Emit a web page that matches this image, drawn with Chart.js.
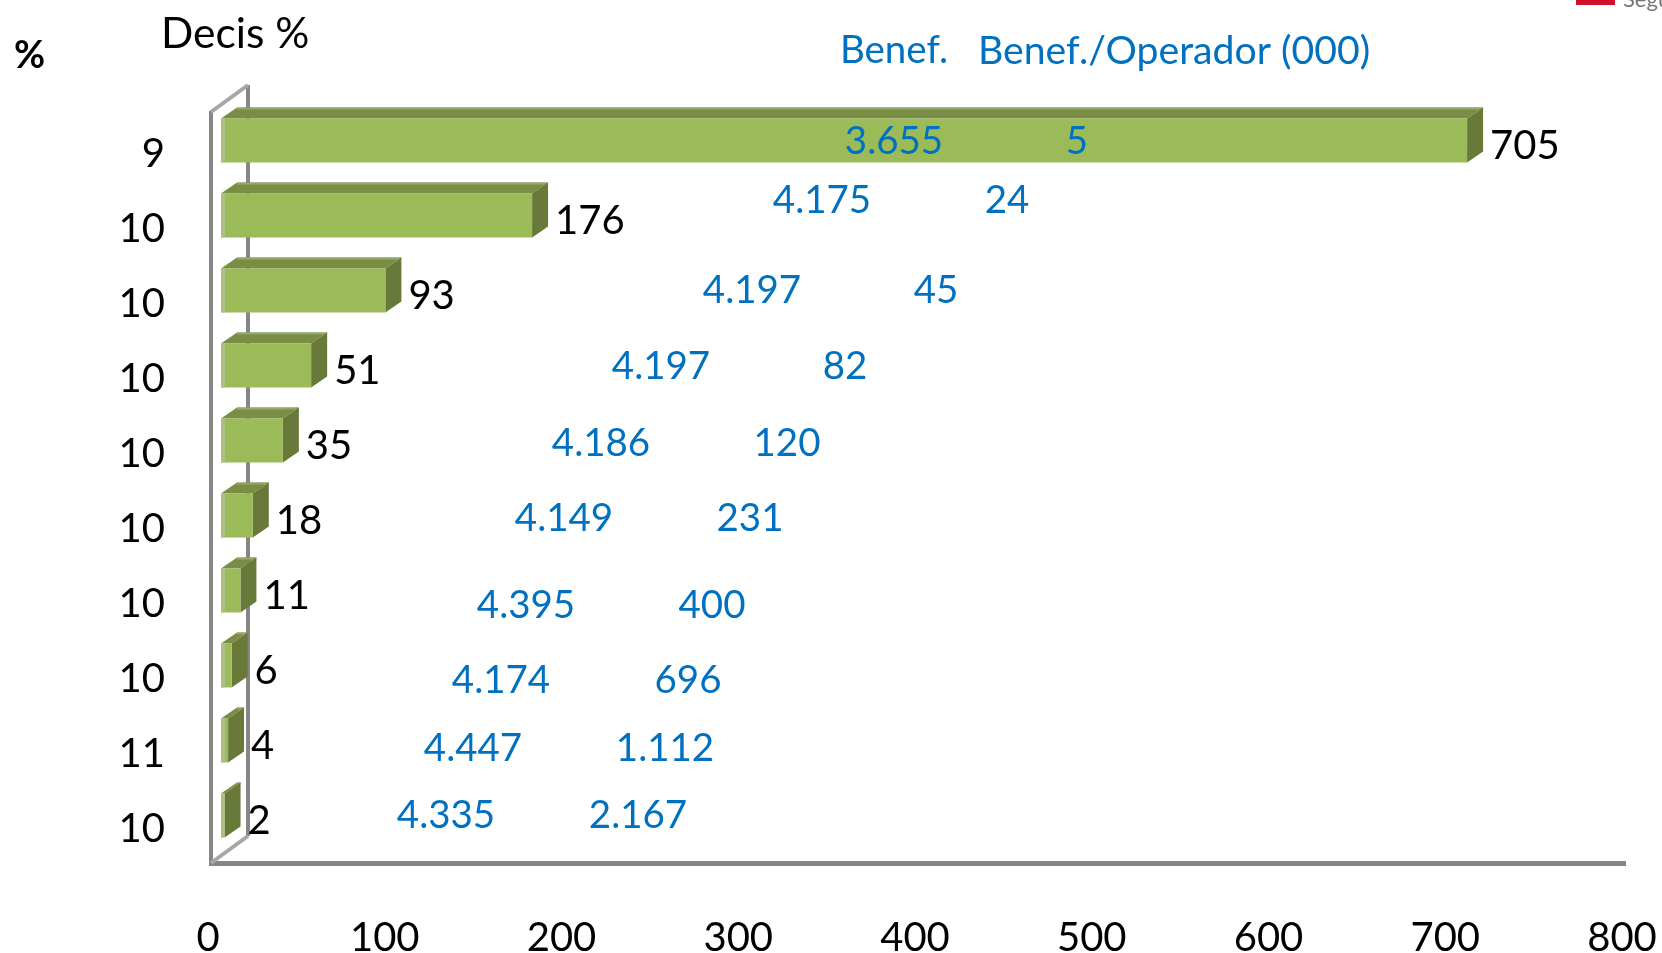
<!DOCTYPE html>
<html><head><meta charset="utf-8">
<style>html,body{margin:0;padding:0;background:#fff}canvas{display:block}</style>
<script src="https://cdn.jsdelivr.net/npm/chart.js@4"></script>
</head><body><canvas id="c" width="1662" height="953"></canvas>
<script>
const decisPct = ['9','10','10','10','10','10','10','10','11','10'];
const rowKeys = ['d1','d2','d3','d4','d5','d6','d7','d8','d9','d10'];
const primaValues = [705,176,93,51,35,18,11,6,4,2];
const benefLabels = ['3.655','4.175','4.197','4.197','4.186','4.149','4.395','4.174','4.447','4.335'];
const operLabels = ['5','24','45','82','120','231','400','696','1.112','2.167'];

// Layout of the free-floating annotation columns (page pixels, separate from the data)
const benefX = [894,822,752,661,601,564,526,501,473,446];
const operX = [1077,1007,936,845,787,750,712,688,665,638];
const annotY = [142,201,291,367,444,519,606,681,749,816];
const FONT = 'Lato, Carlito, sans-serif';
const depthX = 16, depthY = 11, shiftX = 10, shiftY = -10;

const bar3d = {
  id:'bar3d',
  beforeDatasetsDraw(ch){
    const c = ch.ctx;
    c.save(); c.strokeStyle='#868686'; c.lineWidth=4;
    c.beginPath(); c.moveTo(248,85); c.lineTo(248,836); c.stroke();
    c.restore();
  },
  beforeDatasetDraw(ch){
    const c = ch.ctx, meta = ch.getDatasetMeta(0);
    meta.data.forEach(b=>{
      const h = b.height, l = b.base+shiftX, r = b.x+shiftX, t = b.y-h/2+shiftY, bt = b.y+h/2+shiftY;
      c.fillStyle='#7a8d45';
      c.beginPath(); c.moveTo(l,t); c.lineTo(l+depthX,t-depthY); c.lineTo(r+depthX,t-depthY); c.lineTo(r,t); c.closePath(); c.fill();
      c.fillStyle='#94a86a';
      c.fillRect(l+depthX,t-depthY,r-l,2);
      c.fillStyle='#68793a';
      c.beginPath(); c.moveTo(r,t); c.lineTo(r+depthX,t-depthY); c.lineTo(r+depthX,bt-depthY); c.lineTo(r,bt); c.closePath(); c.fill();
    });
    c.save(); c.translate(shiftX,shiftY);
  },
  afterDatasetDraw(ch){
    const c = ch.ctx; c.restore();
    const meta = ch.getDatasetMeta(0);
    c.save();
    meta.data.forEach(b=>{
      c.fillStyle='#aebf85';
      c.fillRect(b.base+shiftX, b.y-b.height/2+shiftY, Math.min(4,b.x-b.base), b.height);
    });
    c.fillStyle='#000'; c.font='40px '+FONT; c.textAlign='left'; c.textBaseline='middle';
    meta.data.forEach((b,i)=>c.fillText(String(primaValues[i]), b.x+33, b.y-4));
    c.font='38.5px '+FONT;
    c.fillStyle='#0070c0';  c.textAlign='center';
    benefLabels.forEach((s,i)=>c.fillText(s, benefX[i], annotY[i]));
    operLabels.forEach((s,i)=>c.fillText(s, operX[i], annotY[i]));
    c.fillText('Benef.', 894, 51);
    c.textAlign='left';
    c.font='39.2px '+FONT;
    c.fillText('Benef./Operador (000)', 978, 51);
    c.fillStyle='#000';
    c.font='42.5px '+FONT;
    c.fillText('Decis %', 161, 34);
    c.font='bold 38px '+FONT;
    c.fillText('%', 14, 56);
    // wall outline
    c.strokeStyle='#a6a6a6'; c.lineWidth=4;
    c.beginPath(); c.moveTo(211,112); c.lineTo(248,85); c.stroke();
    c.beginPath(); c.moveTo(211,863); c.lineTo(248,836); c.stroke();
    // corner logo fragment
    c.fillStyle='#d0102c'; c.fillRect(1576,0,39,5);
    c.fillStyle='#777'; c.font='22px '+FONT; c.textBaseline='alphabetic'; c.fillText('Segu',1623,7);
    c.restore();
  }
};

new Chart(document.getElementById('c'),{
  type:'bar',
  data:{labels:rowKeys,datasets:[{data:primaValues,backgroundColor:'#9bbb59',borderWidth:0,barPercentage:0.585,categoryPercentage:1,clip:false}]},
  plugins:[bar3d],
  options:{
    indexAxis:'y',responsive:false,animation:false,
    layout:{padding:{top:113,right:37,left:0,bottom:0}},
    plugins:{legend:{display:false},tooltip:{enabled:false}},
    scales:{
      x:{min:0,max:800,grid:{display:false,drawTicks:false},border:{color:'#868686',width:5},
         ticks:{stepSize:100,padding:51,labelOffset:-3,maxRotation:0,color:'#000',font:{family:FONT,size:40}},
         afterFit(s){s.height=90;s.paddingRight=0;s.paddingLeft=0;}},
      y:{grid:{display:false,drawTicks:false},border:{color:'#868686',width:4},
         ticks:{padding:46,labelOffset:4,color:'#000',font:{family:FONT,size:40},callback:(v,i)=>decisPct[i]},
         afterFit(s){s.width=211;s.paddingTop=0;s.paddingBottom=0;}}
    }
  }
});
</script></body></html>
